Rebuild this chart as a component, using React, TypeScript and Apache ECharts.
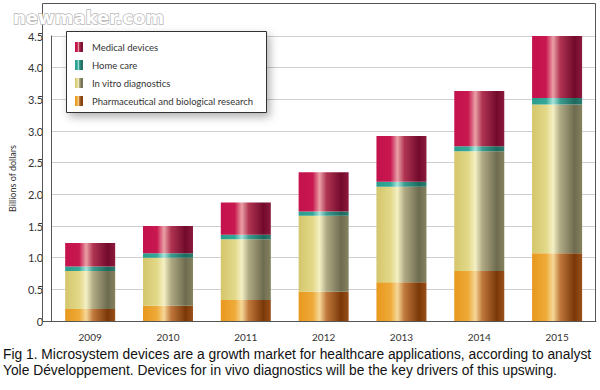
import React, { useEffect, useRef } from "react";
import * as echarts from "echarts";

const years = ["2009", "2010", "2011", "2012", "2013", "2014", "2015"];
const pharma = [0.19, 0.24, 0.33, 0.46, 0.61, 0.79, 1.07];
const inVitro = [0.6, 0.76, 0.96, 1.2, 1.51, 1.89, 2.35];
const homeCare = [0.07, 0.07, 0.07, 0.07, 0.08, 0.08, 0.1];
const medical = [0.37, 0.43, 0.51, 0.62, 0.72, 0.87, 0.99];
const seriesNames = [
  "Medical devices",
  "Home care",
  "In vitro diagnostics",
  "Pharmaceutical and biological research",
];
const captionLines = [
  "Fig 1. Microsystem devices are a growth market for healthcare applications, according to analyst",
  "Yole Développement. Devices for in vivo diagnostics will be the key drivers of this upswing.",
];

const grad = (stops: [number, string][]) => ({
  type: "linear",
  x: 0,
  y: 0,
  x2: 1,
  y2: 0,
  colorStops: stops.map(([offset, color]) => ({ offset, color })),
});

const colMedical = grad([
  [0, "#c4124c"],
  [0.28, "#c81850"],
  [0.42, "#eaa0a6"],
  [0.56, "#b03452"],
  [0.85, "#720a2c"],
  [1, "#8c1a3c"],
]);
const colHome = grad([
  [0, "#2a9c8c"],
  [0.28, "#34a898"],
  [0.42, "#a8e4dc"],
  [0.56, "#3c9c90"],
  [0.85, "#1c6a5e"],
  [1, "#2c7c70"],
]);
const colVitro = grad([
  [0, "#d4c66c"],
  [0.28, "#e2d888"],
  [0.42, "#f4f0c4"],
  [0.56, "#b0aa84"],
  [0.85, "#6e6c50"],
  [1, "#84825e"],
]);
const colPharma = grad([
  [0, "#e8981e"],
  [0.28, "#eeaa38"],
  [0.42, "#f6d898"],
  [0.56, "#c0783c"],
  [0.85, "#7a3808"],
  [1, "#9a5018"],
]);

export default function App() {
  const ref = useRef<HTMLDivElement>(null);
  useEffect(() => {
    document.body.style.margin = "0";
    const chart = echarts.init(ref.current!, null, { renderer: "svg" });
    const barWidth = 50;
    const mk = (name: string, data: number[], color: any) => ({
      name,
      type: "bar",
      stack: "total",
      barWidth,
      data,
      itemStyle: { color },
      emphasis: { disabled: true },
    });
    chart.setOption({
      animation: false,
      backgroundColor: "#ffffff",
      grid: { left: 42, right: 4, top: 36, bottom: 69 },
      xAxis: {
        type: "category",
        data: years,
        axisLine: { lineStyle: { color: "#555", width: 1 } },
        axisTick: { show: false },
        axisLabel: {
          color: "#333",
          fontFamily: "Lato",
          fontSize: 10,
          margin: 11,
        },
      },
      yAxis: {
        type: "value",
        min: 0,
        max: 4.5,
        interval: 0.5,
        name: "Billions of dollars",
        nameLocation: "middle",
        nameGap: 33,
        nameTextStyle: { color: "#333", fontFamily: "Lato", fontSize: 9 },
        axisLine: { show: true, lineStyle: { color: "#555", width: 1 } },
        axisTick: { show: false },
        splitLine: { lineStyle: { color: "#cfcfcf", width: 1 } },
        axisLabel: {
          color: "#333",
          fontFamily: "Lato",
          fontSize: 11,
          margin: 8,
          formatter: (v: number) => (v === 0 ? "0" : v.toFixed(1)),
        },
      },
      legend: {
        data: seriesNames,
        orient: "vertical",
        left: 75,
        top: 42,
        padding: 0,
        itemGap: 8,
        itemWidth: 8,
        itemHeight: 10,
        icon: "rect",
        selectedMode: false,
        z: 10,
        textStyle: {
          color: "#333",
          fontFamily: "Lato",
          fontSize: 9.5,
          padding: [0, 0, 0, 4],
        },
      },
      graphic: [
        {
          type: "rect",
          shape: { x: 42.5, y: 3.5, width: 553, height: 318 },
          style: { fill: "none", stroke: "#555", lineWidth: 1 },
          z: 1,
          silent: true,
        },
        {
          type: "rect",
          shape: { x: 66.5, y: 31.5, width: 200, height: 81 },
          style: {
            fill: "#fff",
            stroke: "#333",
            lineWidth: 1,
            shadowBlur: 8,
            shadowOffsetX: 3,
            shadowOffsetY: 4,
            shadowColor: "rgba(0,0,0,0.3)",
          },
          z: 3,
          silent: true,
        },
        {
          type: "text",
          x: 13,
          y: 8,
          style: {
            text: "newmaker.com",
            font: "bold 18px 'DejaVu Sans'",
            fill: "#ffffff",
            stroke: "#b8b8b8",
            lineWidth: 1.5,
          },
          z: 20,
          silent: true,
        },
        {
          type: "text",
          x: 3,
          y: 347,
          style: {
            text: captionLines[0],
            font: "13.8px 'Liberation Sans'",
            fill: "#111",
          },
          silent: true,
        },
        {
          type: "text",
          x: 3,
          y: 363,
          style: {
            text: captionLines[1],
            font: "13.8px 'Liberation Sans'",
            fill: "#111",
          },
          silent: true,
        },
      ],
      series: [
        mk(seriesNames[3], pharma, colPharma),
        mk(seriesNames[2], inVitro, colVitro),
        mk(seriesNames[1], homeCare, colHome),
        mk(seriesNames[0], medical, colMedical),
      ],
    });
    return () => chart.dispose();
  }, []);
  return <div ref={ref} style={{ width: 600, height: 390 }} />;
}
